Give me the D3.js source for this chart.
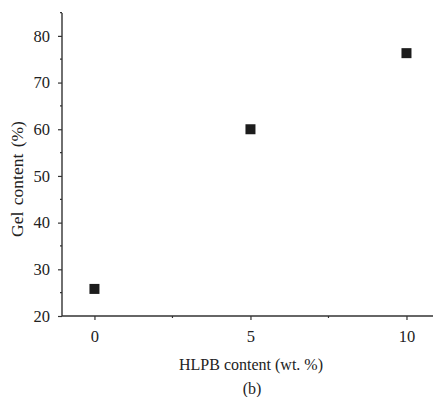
<!DOCTYPE html>
<html>
<head>
<meta charset="utf-8">
<script src="https://cdn.jsdelivr.net/npm/d3@7"></script>
<style>
  body { margin: 0; background: #fff; }
  text { font-family: "Liberation Serif", "DejaVu Serif", serif; fill: #222; }
</style>
</head>
<body>
<div id="chart"></div>
<script>
// HLPB content vs gel content
var hlpb = [0, 5, 10];
var gel = [25.8, 60, 76.3];
var xMajor = [0, 5, 10];
var xMinor = [2.5, 7.5];
var yMajor = [20, 30, 40, 50, 60, 70, 80];
var yMinor = [25, 35, 45, 55, 65, 75, 85];

var W = 434, H = 397;
var svg = d3.select("#chart").append("svg")
    .attr("width", W)
    .attr("height", H);

var x = d3.scaleLinear().domain([-1.04, 10.85]).range([62, 433]);
var y = d3.scaleLinear().domain([20, 84.9]).range([316, 13]);

var axisColor = "#333";

// y axis
var yAxis = svg.append("g").attr("transform", "translate(62,0)")
    .call(d3.axisLeft(y).tickValues(yMajor).tickSize(4).tickPadding(8).tickSizeOuter(0));
yAxis.select(".domain").remove();
yAxis.selectAll("line").attr("stroke", axisColor).attr("stroke-width", 1.2);
yAxis.selectAll("text").attr("font-size", 16.5).style("font-family", "Liberation Serif").attr("fill", "#222");
yAxis.append("g").selectAll("line").data(yMinor).join("line")
    .attr("x1", -2).attr("x2", 0)
    .attr("y1", d => y(d)).attr("y2", d => y(d))
    .attr("stroke", axisColor).attr("stroke-width", 1.2);
svg.append("line")
    .attr("x1", 62).attr("x2", 62).attr("y1", y(84.9)).attr("y2", 316)
    .attr("stroke", axisColor).attr("stroke-width", 1.4);

// x axis
var xAxis = svg.append("g").attr("transform", "translate(0,316)")
    .call(d3.axisBottom(x).tickValues(xMajor).tickSize(4).tickPadding(10).tickSizeOuter(0));
xAxis.select(".domain").remove();
xAxis.selectAll("line").attr("stroke", axisColor).attr("stroke-width", 1.2);
xAxis.selectAll("text").attr("font-size", 16.5).style("font-family", "Liberation Serif").attr("fill", "#222");
xAxis.append("g").selectAll("line").data(xMinor).join("line")
    .attr("x1", d => x(d)).attr("x2", d => x(d))
    .attr("y1", 0).attr("y2", 2)
    .attr("stroke", axisColor).attr("stroke-width", 1.2);
svg.append("line")
    .attr("x1", 62).attr("x2", 433).attr("y1", 316).attr("y2", 316)
    .attr("stroke", axisColor).attr("stroke-width", 1.4);

// points
svg.append("g").selectAll("rect").data(hlpb).join("rect")
    .attr("x", (d, i) => x(d) - 5)
    .attr("y", (d, i) => y(gel[i]) - 5)
    .attr("width", 10).attr("height", 10)
    .attr("fill", "#1c1c1c");

// labels
svg.append("text")
    .attr("x", 251).attr("y", 370)
    .attr("text-anchor", "middle").attr("font-size", 16)
    .text("HLPB content (wt. %)");
svg.append("text")
    .attr("x", 252).attr("y", 394)
    .attr("text-anchor", "middle").attr("font-size", 16)
    .text("(b)");
svg.append("text")
    .attr("transform", "translate(23,179) rotate(-90)")
    .attr("text-anchor", "middle").attr("font-size", 17.5)
    .attr("word-spacing", 2)
    .text("Gel content (%)");
</script>
</body>
</html>
